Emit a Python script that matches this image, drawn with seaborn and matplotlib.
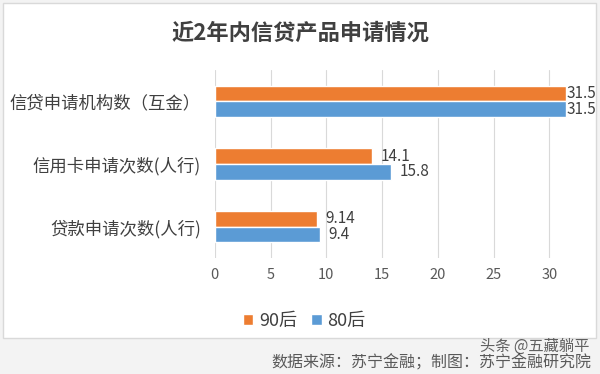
import pandas as pd
import matplotlib.pyplot as plt
import seaborn as sns
from matplotlib.patches import Rectangle

# data
categories = ['信贷申请机构数（互金）', '信用卡申请次数(人行)', '贷款申请次数(人行)']
series_names = ['90后', '80后']
values_90 = [31.5, 14.1, 9.14]
values_80 = [31.5, 15.8, 9.4]
colors = ['#ED7D31', '#5B9BD5']

df = pd.DataFrame({
    'category': categories * 2,
    'group': [series_names[0]] * 3 + [series_names[1]] * 3,
    'value': values_90 + values_80,
})

sns.set_style('white')
plt.rcParams['font.family'] = ['Noto Sans CJK SC', 'DejaVu Sans']

fig = plt.figure(figsize=(6, 3.74), dpi=100, facecolor='#f3f3f3')
# white chart frame behind the axes
fig.patches.append(Rectangle((0.005, 0.095), 0.988, 0.897, transform=fig.transFigure,
                             facecolor='white', edgecolor='#d9d9d9', lw=1, zorder=-5))

ax = fig.add_axes([0.358, 0.31, 0.595, 0.503])
ax.set_facecolor('none')
sns.barplot(data=df, x='value', y='category', hue='group', order=categories,
            hue_order=series_names, palette=colors, orient='h', width=0.5,
            saturation=1, ax=ax)

for cont in ax.containers:
    anns = ax.bar_label(cont, labels=[f'{v:g}' for v in cont.datavalues], padding=6,
                        fontsize=11, color='#404040')
    # the long bars' labels sit tight against the bar end, as in the original
    anns[0].xyann = (0, 0)

ax.set_xlim(0, 32)
ax.set_xticks([0, 5, 10, 15, 20, 25, 30])
ax.grid(axis='x', color='#d9d9d9', lw=0.8)
ax.set_axisbelow(True)
for s in ax.spines.values():
    s.set_visible(False)
ax.set_xlabel('')
ax.set_ylabel('')
ax.tick_params(axis='x', labelsize=10.5, colors='#595959', length=0, pad=7)
ax.tick_params(axis='y', labelsize=12.5, colors='#404040', length=0, pad=10)

ax.legend(loc='upper center', bbox_to_anchor=(0.25, -0.2),
          ncol=2, frameon=False, fontsize=13, handlelength=0.6, handleheight=0.6,
          handletextpad=0.3, columnspacing=0.8, labelcolor='#404040')

fig.text(0.5, 0.912, '近2年内信贷产品申请情况', ha='center', va='center',
         fontsize=16, fontweight='bold', color='#404040')
fig.text(0.985, 0.03, '数据来源：苏宁金融；制图：苏宁金融研究院', ha='right', va='center',
         fontsize=11.5, color='#595959')
fig.text(0.982, 0.074, '头条 @五藏躺平', ha='right', va='center',
         fontsize=11, color='#222222', alpha=0.7)

fig.savefig('out.png', dpi=100, facecolor=fig.get_facecolor())
